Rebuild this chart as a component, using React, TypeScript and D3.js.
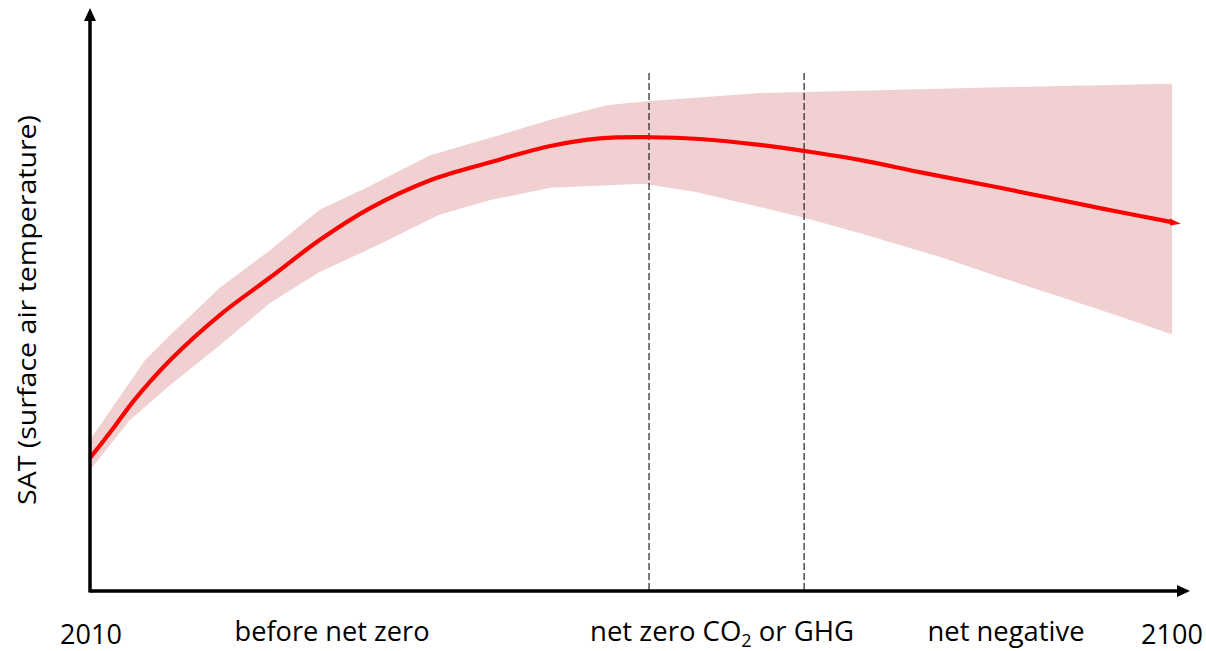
import * as d3 from "d3";

// SAT index (arbitrary units)
const lineYears = [2010, 2012, 2013.7, 2016.7, 2020.8, 2025, 2029.1, 2033.3, 2038.3, 2043.3, 2048.3, 2052.4, 2056.6, 2060.7, 2065.7, 2069.5, 2074, 2079, 2085.7, 2094, 2100];
const lineVals = [22.9, 28.2, 32.9, 39.8, 47.5, 54.0, 60.4, 65.9, 70.7, 73.8, 76.6, 77.9, 78.1, 77.8, 76.8, 75.7, 74.2, 72.1, 69.4, 65.9, 63.5];

const upperYears = [2010, 2014.6, 2016.7, 2020.8, 2025, 2029.1, 2033, 2038.3, 2043.3, 2048.3, 2053, 2056.3, 2065.7, 2074, 2085.7, 2100];
const upperVals = [26.0, 39.8, 44.1, 52.2, 58.7, 65.6, 69.4, 75.0, 78.0, 81.1, 83.6, 84.3, 85.7, 86.1, 86.7, 87.3];

const lowerYears = [2010, 2013.3, 2016.7, 2020.8, 2025, 2029.1, 2034, 2039, 2043.3, 2048.3, 2056, 2060.3, 2065.7, 2069.5, 2074, 2081, 2085.7, 2094, 2100];
const lowerVals = [20.8, 29.4, 35.5, 42.3, 49.6, 54.9, 59.6, 64.7, 67.3, 69.4, 70.1, 68.7, 66.1, 64.2, 61.6, 57.3, 54.0, 48.4, 44.2];

const markerYears = [2056.5, 2069.4];

const W = 1206;
const H = 651;

export default function App() {
  const x = d3.scaleLinear().domain([2010, 2100]).range([90, 1172]);
  const y = d3.scaleLinear().domain([0, 100]).range([591, 10]);

  // band polygon: upper edge forward, lower edge backward
  const bandPts: [number, number][] = [
    ...upperYears.map((yr, i) => [x(yr), y(upperVals[i])] as [number, number]),
    ...lowerYears.map((yr, i) => [x(yr), y(lowerVals[i])] as [number, number]).reverse(),
  ];
  const band = d3.line().curve(d3.curveLinearClosed)(bandPts);

  const linePts = lineYears.map((yr, i) => [x(yr), y(lineVals[i])] as [number, number]);
  const redLine = d3.line().curve(d3.curveCatmullRom.alpha(0.5))(linePts);

  const last = linePts[linePts.length - 1];
  const prev = linePts[linePts.length - 2];
  const ang = Math.atan2(last[1] - prev[1], last[0] - prev[0]);
  const tip: [number, number] = [last[0] + 9 * Math.cos(ang), last[1] + 9 * Math.sin(ang)];

  const x0 = 90;
  const yAxis = 591;
  const xEnd = 1190;
  const yTop = 8;
  const font = "'Open Sans', sans-serif";

  return (
    <svg width={W} height={H} style={{ position: "absolute", left: 0, top: 0, background: "#fff" }}>
      <path d={band || ""} fill="#f0d0d0" stroke="none" />
      {markerYears.map((m) => (
        <line key={m} x1={x(m)} x2={x(m)} y1={73} y2={yAxis} stroke="#222" strokeWidth={1.2} strokeDasharray="7,3" />
      ))}
      <path d={redLine || ""} fill="none" stroke="#ff0000" strokeWidth={4.2} />
      <path
        d={`M${tip[0]},${tip[1]} L${last[0] - 2},${last[1] - 3.5} L${last[0] - 2},${last[1] + 3.5} Z`}
        fill="#ff0000"
      />

      {/* axes */}
      <line x1={x0} x2={xEnd - 10} y1={yAxis} y2={yAxis} stroke="#000" strokeWidth={3.5} />
      <line x1={x0} x2={x0} y1={yAxis + 1.5} y2={yTop + 10} stroke="#000" strokeWidth={3.5} />
      <path d={`M${xEnd},${yAxis} L${xEnd - 13},${yAxis - 6} L${xEnd - 13},${yAxis + 6} Z`} fill="#000" />
      <path d={`M${x0},${yTop} L${x0 - 6},${yTop + 13} L${x0 + 6},${yTop + 13} Z`} fill="#000" />

      <g fontFamily={font} fontSize={27} fill="#000" textAnchor="middle">
        <text x={91} y={644}>2010</text>
        <text x={332} y={641} textLength={195} lengthAdjust="spacingAndGlyphs">before net zero</text>
        <text x={722} y={641} fontSize={27.5}>
          net zero CO<tspan fontSize={18} dy={6}>2</tspan>
          <tspan dy={-6}> or GHG</tspan>
        </text>
        <text x={1006} y={641} textLength={157} lengthAdjust="spacingAndGlyphs">net negative</text>
        <text x={1172} y={644}>2100</text>
        <text
          transform={`translate(36,${310}) rotate(-90)`}
          fontSize={25}
          textLength={390}
          lengthAdjust="spacingAndGlyphs"
        >
          SAT (surface air temperature)
        </text>
      </g>
    </svg>
  );
}
